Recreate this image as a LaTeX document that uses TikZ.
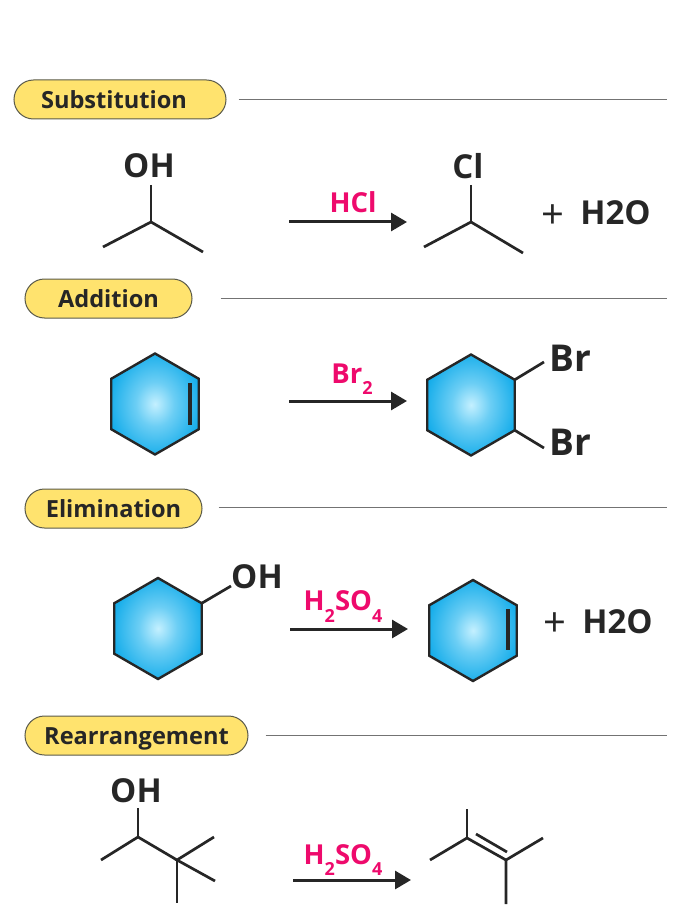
\documentclass[tikz,border=0pt]{standalone}
\usepackage{fontspec}
\setmainfont{Open Sans}
\usetikzlibrary{arrows.meta,shapes.misc,shapes.geometric}
\definecolor{pillfill}{HTML}{FFE36E}
\definecolor{pilledge}{HTML}{5A5A4A}
\definecolor{inkdark}{HTML}{262626}
\definecolor{reagentpink}{HTML}{EE0A6C}
\definecolor{ringblue}{HTML}{13ACEA}
\definecolor{ringpale}{HTML}{C4F0FF}
\newcommand{\lowidx}[1]{\raisebox{-0.42em}{\fontsize{18}{18}\selectfont #1}}
\pgfdeclareradialshading{ringglow}{\pgfpoint{0bp}{0bp}}{color(0bp)=(ringpale);color(11bp)=(ringblue!50!ringpale);color(27bp)=(ringblue);color(50bp)=(ringblue)}
\tikzset{
  pill/.style={draw=pilledge,line width=1pt,fill=pillfill,rounded rectangle,minimum height=39pt,inner sep=0pt,text=inkdark,text height=17.5pt,text depth=0pt,font=\fontsize{23.6}{24}\selectfont\bfseries},
  rule/.style={draw=black!55,line width=1pt,shorten <=12pt},
  bond/.style={draw=inkdark,line width=2.7pt},
  ringbond/.style={draw=inkdark,line width=3.4pt},
  ring/.style={draw=inkdark,line width=2.4pt,regular polygon,regular polygon sides=6,shape border rotate=30,minimum size=101pt,inner sep=0pt,outer sep=0pt,shading=ringglow},
  atom/.style={text=inkdark,inner sep=0pt,font=\fontsize{33}{33}\selectfont\bfseries},
  bigatom/.style={text=inkdark,inner sep=0pt,font=\fontsize{37}{37}\selectfont\bfseries},
  reagent/.style={text=reagentpink,inner sep=0pt,text height=20pt,text depth=0pt,font=\fontsize{27.5}{28}\selectfont\bfseries},
  plussign/.style={text=inkdark,inner sep=0pt,font=\fontsize{40}{40}\selectfont},
  yield/.style={draw=inkdark,line width=3pt,-{Triangle[length=16pt,width=18pt]}}
}
\begin{document}
\begin{tikzpicture}[x=1pt,y=-1pt]
\useasboundingbox (0,0) rectangle (700,917);
\node[pill,minimum width=212pt] (subst) at (120,99.5) {Substitution\hspace*{12pt}};
\coordinate (substend) at (667,99.5);
\draw[rule] (subst.east) -- (substend);
\node[pill,minimum width=167pt] (addit) at (108.5,298.5) {Addition};
\coordinate (additend) at (667,298.5);
\draw[rule,shorten <=28pt] (addit.east) -- (additend);
\node[pill,minimum width=177pt] (elimi) at (113.5,508.5) {Elimination};
\coordinate (elimiend) at (667,507);
\draw[rule,shorten <=16pt] (elimi.east |- elimiend) -- (elimiend);
\node[pill,minimum width=223pt] (rearr) at (136.5,735.5) {Rearrangement};
\coordinate (rearrend) at (667,735);
\draw[rule,shorten <=17pt] (rearr.east |- rearrend) -- (rearrend);

\node[atom] (oha) at (149,166) {OH};
\coordinate (ca) at (151,222);
\coordinate (cal) at (103,247);
\coordinate (car) at (203,252);
\coordinate (cat) at (151,185);
\draw[bond] (cat) -- (ca);
\draw[bond] (cal) -- (ca) -- (car);
\coordinate (hcla) at (289,222);
\coordinate (hclb) at (407,222);
\draw[yield] (hcla) -- (hclb);
\node[reagent] (hcl) at (353,202.5) {HCl};
\node[atom] (cl) at (468,166) {Cl};
\coordinate (cb) at (471,222);
\coordinate (cbl) at (424,247);
\coordinate (cbr) at (523,253);
\coordinate (cbt) at (471,185);
\draw[bond] (cbt) -- (cb);
\draw[bond] (cbl) -- (cb) -- (cbr);
\node[plussign] (plusa) at (553,216.5) {+};
\node[atom] (watera) at (615.5,213) {H2O};

\node[ring] (hexa) at (155,404) {};
\coordinate (dba) at (190,383);
\coordinate (dbb) at (190,425);
\draw[ringbond] (dba) -- (dbb);
\coordinate (bra) at (289,401);
\coordinate (brb) at (407,401);
\draw[yield] (bra) -- (brb);
\node[reagent] (brtwo) at (352,373) {Br\lowidx{2}};
\node[ring] (hexb) at (471,405) {};
\coordinate (brup) at (544,362);
\coordinate (brdown) at (544,448);
\draw[bond] (hexb.30) -- (brup);
\draw[bond] (hexb.-30) -- (brdown);
\node[bigatom] (bratoma) at (570,358) {Br};
\node[bigatom] (bratomb) at (570,442) {Br};

\node[ring] (hexc) at (158,628.5) {};
\coordinate (ohbond) at (231,586);
\draw[bond] (hexc.30) -- (ohbond);
\node[atom] (ohc) at (257,577) {OH};
\coordinate (sfa) at (290,629);
\coordinate (sfb) at (408,629);
\draw[yield] (sfa) -- (sfb);
\node[reagent] (sfone) at (343,600.5) {H\lowidx{2}SO\lowidx{4}};
\node[ring] (hexd) at (473,630.5) {};
\coordinate (dbc) at (508,609);
\coordinate (dbd) at (508,650);
\draw[ringbond] (dbc) -- (dbd);
\node[plussign] (plusb) at (555,625) {+};
\node[atom] (waterb) at (617.5,622) {H2O};

\node[atom] (ohd) at (136,791) {OH};
\coordinate (ra) at (138,808);
\coordinate (rb) at (138,837);
\coordinate (rc) at (101,860);
\coordinate (rd) at (177,860);
\coordinate (re) at (214,837);
\coordinate (rf) at (215,881);
\coordinate (rg) at (177,903);
\draw[bond] (ra) -- (rb);
\draw[bond] (rc) -- (rb) -- (rd);
\draw[bond] (re) -- (rd) -- (rf);
\draw[bond] (rd) -- (rg);
\coordinate (sga) at (293,880);
\coordinate (sgb) at (411,880);
\draw[yield] (sga) -- (sgb);
\node[reagent] (sftwo) at (343,854) {H\lowidx{2}SO\lowidx{4}};
\coordinate (pa) at (467,809);
\coordinate (pb) at (467,838);
\coordinate (pc) at (430,860);
\coordinate (pd) at (506,860);
\coordinate (pe) at (543,838);
\coordinate (pf) at (506,904);
\coordinate (pg) at (476,834);
\coordinate (ph) at (507,852);
\draw[bond] (pa) -- (pb);
\draw[bond] (pc) -- (pb) -- (pd);
\draw[bond] (pe) -- (pd) -- (pf);
\draw[bond] (pg) -- (ph);
\end{tikzpicture}
\end{document}
